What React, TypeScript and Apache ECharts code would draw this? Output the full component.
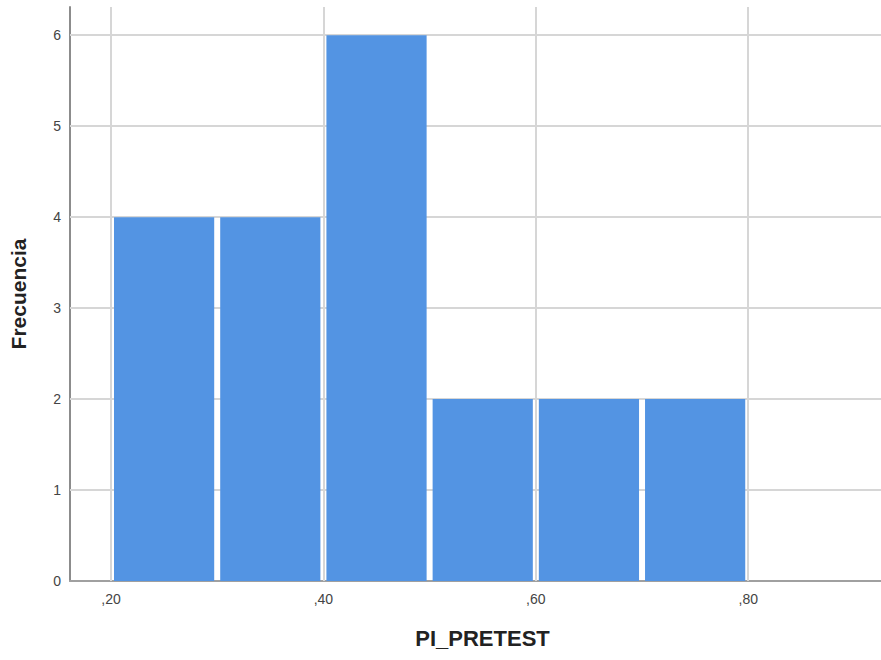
import React, { useEffect, useRef } from "react";
import * as echarts from "echarts";

const binStarts = [0.2, 0.3, 0.4, 0.5, 0.6, 0.7];
const binWidth = 0.1;
const frequencies = [4, 4, 6, 2, 2, 2];
const xTicks = [0.2, 0.4, 0.6, 0.8];
const yTicks = [0, 1, 2, 3, 4, 5, 6];
const xMin = 0.1614;
const xMax = 0.925;
const yMax = 6.31;

export default function App() {
  const ref = useRef<HTMLDivElement>(null);
  useEffect(() => {
    const chart = echarts.init(ref.current!, null, { renderer: "svg" });
    const data = binStarts.map((s, i) => [s, s + binWidth, frequencies[i]]);
    const gridColor = "#d6d6d6";
    chart.setOption({
      animation: false,
      backgroundColor: "#ffffff",
      textStyle: { fontFamily: "Liberation Sans, Arial, sans-serif" },
      grid: { left: 69, right: 0, top: 7, bottom: 79 },
      xAxis: {
        type: "value",
        min: xMin,
        max: xMax,
        name: "PI_PRETEST",
        nameLocation: "middle",
        nameGap: 46,
        nameTextStyle: {
          fontSize: 22,
          fontWeight: "bold",
          color: "#222",
          padding: [0, 0, 0, 14],
        },
        axisLine: { show: true, lineStyle: { color: "#a0a0a0", width: 2 } },
        axisTick: { show: false },
        splitLine: { show: false },
        axisLabel: {
          customValues: xTicks,
          fontSize: 14,
          color: "#444",
          margin: 11,
          formatter: (v: number) => "," + Math.round(v * 100).toString(),
        },
      },
      yAxis: {
        type: "value",
        min: 0,
        max: yMax,
        name: "Frecuencia",
        nameLocation: "middle",
        nameGap: 41,
        nameTextStyle: { fontSize: 21, fontWeight: "bold", color: "#222" },
        axisLine: { show: true, lineStyle: { color: "#8c8c8c", width: 2 } },
        axisTick: { show: false },
        splitLine: { show: false },
        axisLabel: {
          customValues: yTicks,
          fontSize: 14,
          color: "#444",
          margin: 9,
          formatter: (v: number) => String(v),
        },
      },
      series: [
        {
          type: "scatter",
          z: 1,
          silent: true,
          symbolSize: 0,
          data: [[0.5, 0]],
          markLine: {
            z: 1,
            silent: true,
            symbol: "none",
            label: { show: false },
            lineStyle: { color: gridColor, width: 2, type: "solid" },
            data: [
              ...xTicks.map((t) => ({ xAxis: t })),
              ...yTicks.filter((t) => t > 0).map((t) => ({ yAxis: t })),
            ],
          },
        },
        {
          type: "custom",
          z: 10,
          data,
          renderItem: (params: any, api: any) => {
            const p0 = api.coord([api.value(0), 0]);
            const p1 = api.coord([api.value(1), api.value(2)]);
            const inset = 3;
            return {
              type: "rect",
              shape: {
                x: p0[0] + inset,
                y: p1[1],
                width: p1[0] - p0[0] - inset * 2,
                height: p0[1] - p1[1],
              },
              style: { fill: "#5394e3" },
            };
          },
        },
      ],
    });
    return () => chart.dispose();
  }, []);
  return (
    <div
      ref={ref}
      style={{ position: "fixed", left: 0, top: 0, width: 881, height: 660 }}
    />
  );
}
